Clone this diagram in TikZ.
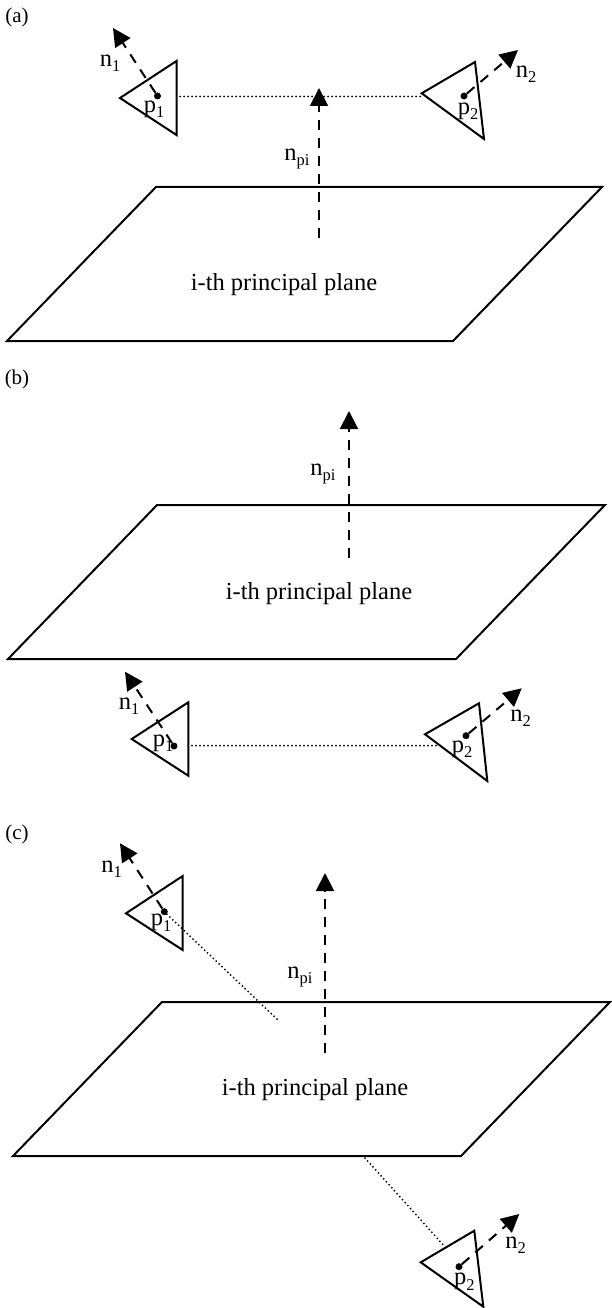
\documentclass[tikz,border=0pt]{standalone}
\usepackage{fontspec}
\setmainfont{Liberation Serif}
\usetikzlibrary{arrows.meta}
\newcommand{\lsub}[2]{#1\raisebox{-0.22em}{\fontsize{16.5}{16.5}\selectfont #2}}
\tikzset{
  x=1pt,y=-1pt,
  outline/.style={draw=black,line width=2pt,line join=miter},
  normalvec/.style={draw=black,line width=2pt,dash pattern=on 10pt off 8pt,-{Triangle[length=18pt,width=18pt]}},
  link/.style={draw=black,line width=2pt,line cap=round,dash pattern=on 0pt off 4pt},
  dotmark/.style={circle,fill=black,inner sep=0pt,minimum size=7pt},
  txt/.style={inner sep=0pt,font=\fontsize{24.5}{24.5}\selectfont,text=black},
  lab/.style={inner sep=0pt,font=\fontsize{21}{21}\selectfont,text=black}
}
\begin{document}
\begin{tikzpicture}
\useasboundingbox (0,0) rectangle (612,1308);
% (a)
\node[lab] (la) at (17,17) {(a)};
\draw[outline] (156,187) -- (602,187) -- (453,341) -- (7,341) -- cycle;
\node[txt] (pa) at (284,285) {i-th principal plane};
\coordinate (a0) at (319,238); \coordinate (at) at (319,88);
\draw[normalvec] (a0) -- (at);
\node[txt] (nap) at (297,159) {\lsub{n}{pi}};
\draw[outline] (120,98) -- (176.5,61) -- (176.5,135) -- cycle;
\node[dotmark] (a1) at (157.5,96) {};
\coordinate (a1t) at (113,28);
\draw[normalvec] (a1) -- (a1t);
\node[txt] (an1) at (110,63) {\lsub{n}{1}};
\node[txt] (ap1) at (154,109) {\lsub{p}{1}};
\draw[outline] (421.7,93.3) -- (475,62) -- (484,139) -- cycle;
\node[dotmark] (a2) at (464,96) {};
\coordinate (a2t) at (518,50);
\draw[normalvec] (a2) -- (a2t);
\node[txt] (an2) at (526,74) {\lsub{n}{2}};
\node[txt] (ap2) at (468,111) {\lsub{p}{2}};
\coordinate (as) at (180,96.5); \coordinate (ae) at (421,96.5);
\draw[link] (as) -- (ae);
% (b)
\node[lab] (lb) at (17,379) {(b)};
\draw[outline] (157,505) -- (605,505) -- (456,659) -- (8,659) -- cycle;
\node[txt] (pb) at (319,594) {i-th principal plane};
\coordinate (b0) at (349,558); \coordinate (bt) at (349,411);
\draw[normalvec] (b0) -- (bt);
\node[txt] (nbp) at (323,474) {\lsub{n}{pi}};
\draw[outline] (131.7,739) -- (188.3,702.3) -- (188.3,775.7) -- cycle;
\node[dotmark] (b1) at (174,746) {};
\coordinate (b1t) at (125,671.7);
\draw[normalvec] (b1) -- (b1t);
\node[txt] (bn1) at (129,706) {\lsub{n}{1}};
\node[txt] (bp1) at (163,743) {\lsub{p}{1}};
\draw[outline] (425,734.3) -- (479,703.3) -- (487.3,781) -- cycle;
\node[dotmark] (b2) at (466,735.7) {};
\coordinate (b2t) at (521.7,688.3);
\draw[normalvec] (b2) -- (b2t);
\node[txt] (bn2) at (520.7,718) {\lsub{n}{2}};
\node[txt] (bp2) at (462,749) {\lsub{p}{2}};
\coordinate (bs) at (192,745.5); \coordinate (be) at (438,745.5);
\draw[link] (bs) -- (be);
% (c)
\node[lab] (lc) at (17,834) {(c)};
\draw[outline] (162,1002) -- (610,1002) -- (461,1156) -- (13,1156) -- cycle;
\node[txt] (pc) at (315,1090) {i-th principal plane};
\coordinate (c0) at (325,1053); \coordinate (ct) at (325,873);
\draw[normalvec] (c0) -- (ct);
\node[txt] (ncp) at (300,977) {\lsub{n}{pi}};
\draw[outline] (126,913.3) -- (182.7,876) -- (182.7,950) -- cycle;
\node[dotmark] (c1) at (164.3,911.7) {};
\coordinate (c1t) at (120,843.3);
\draw[normalvec] (c1) -- (c1t);
\node[txt] (cn1) at (111.7,869) {\lsub{n}{1}};
\node[txt] (cp1) at (161,922.7) {\lsub{p}{1}};
\coordinate (c1e) at (279,1021);
\draw[link] (c1) -- (c1e);
\draw[outline] (420.7,1262.3) -- (474.3,1230.7) -- (483.3,1306.7) -- cycle;
\node[dotmark] (c2) at (459,1266.7) {};
\coordinate (c2t) at (519.3,1214);
\draw[normalvec] (c2) -- (c2t);
\node[txt] (cn2) at (515.7,1245) {\lsub{n}{2}};
\node[txt] (cp2) at (464.3,1281.7) {\lsub{p}{2}};
\coordinate (cs) at (365,1158); \coordinate (ce) at (442.7,1244.3);
\draw[link] (cs) -- (ce);
\end{tikzpicture}
\end{document}
